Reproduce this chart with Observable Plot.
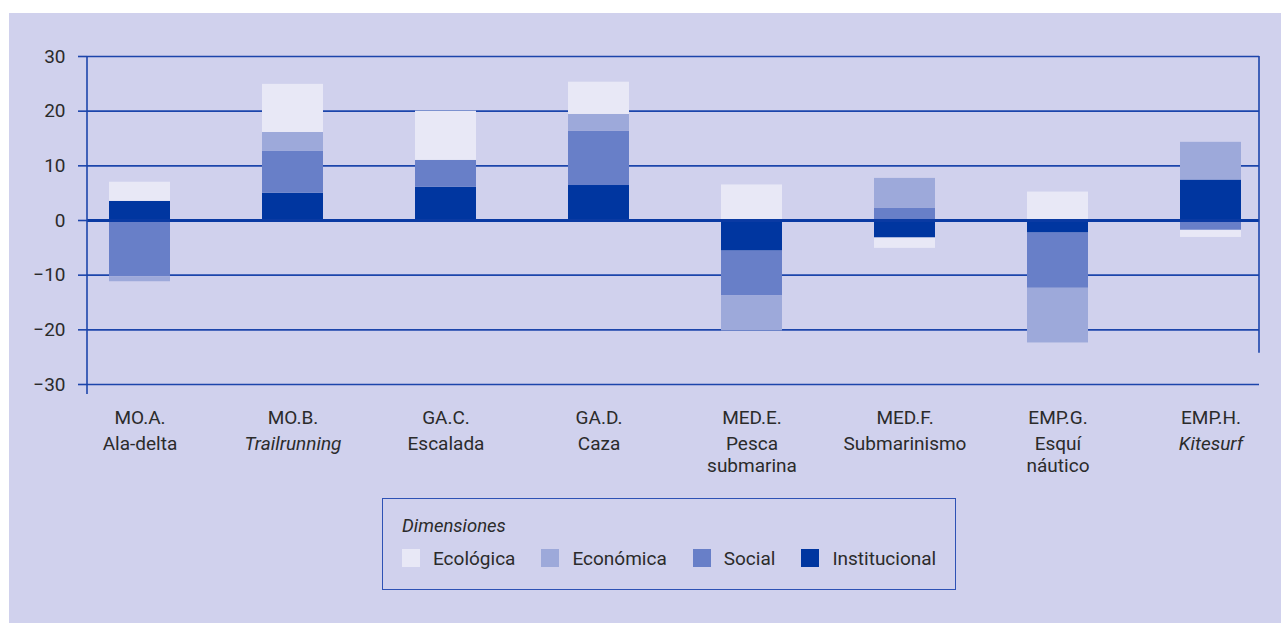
<!DOCTYPE html>
<html><head><meta charset="utf-8">
<script src="https://cdn.jsdelivr.net/npm/d3@7"></script>
<script src="https://cdn.jsdelivr.net/npm/@observablehq/plot@0.6"></script>
<style>
body{margin:0;background:#fff;width:1281px;height:623px;overflow:hidden;position:relative;font-family:Roboto,"Open Sans",sans-serif;color:#2b2b2b;}
#panel{position:absolute;left:9px;top:13px;width:1272px;height:610px;background:#d0d1ed;}
#chart{position:absolute;left:0;top:0;}
#legend{position:absolute;left:382px;top:498px;width:574px;height:92px;border:1.5px solid #2e52b5;box-sizing:border-box;font-size:19px;}
#legend .ttl{position:absolute;left:19px;top:16px;line-height:22px;font-style:italic;font-size:18.5px;}
#legend .row{position:absolute;left:19px;top:48px;height:22px;display:flex;align-items:center;}
#legend .item{display:flex;align-items:center;margin-right:26px;}
#legend .sw{width:18px;height:18px;margin-right:13px;}
</style></head>
<body>
<div id="panel"></div>
<div id="chart"></div>
<div id="legend"></div>
<script>
const categories = ["MO.A.","MO.B.","GA.C.","GA.D.","MED.E.","MED.F.","EMP.G.","EMP.H."];
const names = ["Ala-delta","Trailrunning","Escalada","Caza","Pesca\nsubmarina","Submarinismo","Esquí\nnáutico","Kitesurf"];
const italicNames = [false,true,false,false,false,false,false,true];
const dimensions = ["Institucional","Social","Económica","Ecológica"];
const colors = ["#0036a0","#687fc8","#9da9da","#e8e8f6"];
const institucional = [3.5, 5.0, 6.1, 6.4, -5.6, -3.2, -2.3, 7.4];
const social = [-10.3, 7.7, 4.9, 9.9, -8.2, 2.2, -10.1, -1.8];
const economica = [-0.9, 3.4, 0, 3.1, -6.4, 5.5, -10.0, 6.9];
const ecologica = [3.5, 8.8, 9.0, 5.9, 6.5, -1.9, 5.2, -1.3];
const yTicks = [-30,-20,-10,0,10,20,30];

const series = [institucional, social, economica, ecologica];
const data = categories.flatMap((c,i)=>dimensions.map((d,j)=>({cat:c, dim:d, value:series[j][i]})));
const labels = categories.map((c,i)=>({cat:c, code:c, name:names[i], italic:italicNames[i]}));

const gridColor = "#1c45ab";
const frameLines = (index, scales, values, dims) => {
  const g = d3.create("svg:g").attr("stroke", gridColor).attr("stroke-width", 1.6);
  const xl = dims.marginLeft, xr = dims.width - dims.marginRight;
  g.append("line").attr("x1", xl).attr("x2", xl).attr("y1", scales.y(30)).attr("y2", scales.y(-30) + 10);
  g.append("line").attr("x1", xr).attr("x2", xr).attr("y1", scales.y(30)).attr("y2", scales.y(-24.3));
  return g.node();
};

const txt = "#2b2b2b";
const chart = Plot.plot({
  width: 1281, height: 480,
  marginLeft: 87, marginRight: 22, marginTop: 56, marginBottom: 96,
  style: {background: "transparent", fontFamily: "Roboto, 'Open Sans', sans-serif", fontSize: "19px", color: txt, overflow: "visible"},
  x: {domain: categories, range: [63, 1287], paddingInner: 0.6, paddingOuter: 0.3, axis: null},
  y: {domain: [-30, 30]},
  color: {domain: dimensions, range: colors},
  marks: [
    Plot.gridY(yTicks, {stroke: gridColor, strokeOpacity: 1, strokeWidth: 1.6}),
    Plot.axisY(yTicks, {tickSize: 9, tickPadding: 13, stroke: gridColor, strokeWidth: 1.6, strokeOpacity: 1, fill: txt, fontSize: 19, label: null}),
    Plot.barY(data, {x: "cat", y: "value", fill: "dim"}),
    Plot.ruleY([0], {stroke: "#0a3aa3", strokeWidth: 3}),
    frameLines,
    Plot.text(labels, {x: "cat", text: "code", frameAnchor: "bottom", lineAnchor: "top", dy: 26, fill: txt, fontSize: 19}),
    Plot.text(labels.filter(d => !d.italic), {x: "cat", text: "name", frameAnchor: "bottom", lineAnchor: "top", dy: 49, lineHeight: 1.2, fill: txt, fontSize: 19}),
    Plot.text(labels.filter(d => d.italic), {x: "cat", text: "name", frameAnchor: "bottom", lineAnchor: "top", dy: 49, lineHeight: 1.2, fontStyle: "italic", fill: txt, fontSize: 19})
  ]
});
document.getElementById("chart").appendChild(chart);

const legend = document.getElementById("legend");
const ttl = document.createElement("div"); ttl.className = "ttl"; ttl.textContent = "Dimensiones"; legend.appendChild(ttl);
const row = document.createElement("div"); row.className = "row"; legend.appendChild(row);
dimensions.map((d,i)=>({d, c:colors[i]})).reverse().forEach(({d,c})=>{
  const it = document.createElement("div"); it.className = "item";
  const sw = document.createElement("div"); sw.className = "sw"; sw.style.background = c;
  const lb = document.createElement("span"); lb.textContent = d;
  it.appendChild(sw); it.appendChild(lb); row.appendChild(it);
});
</script>
</body></html>
